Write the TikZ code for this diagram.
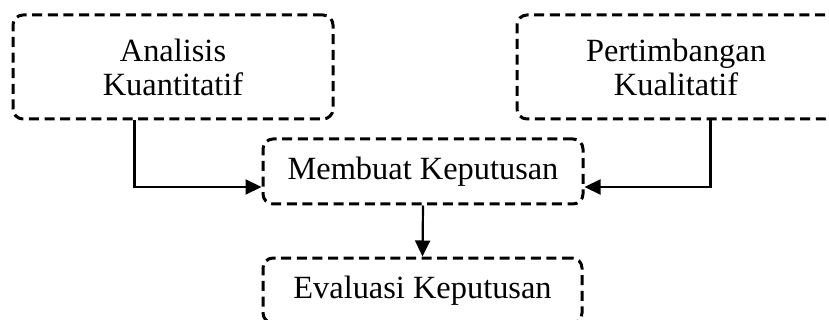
\documentclass[tikz,border=0pt]{standalone}
\usepackage{fontspec}
\setmainfont{Liberation Serif}
\usetikzlibrary{arrows.meta}
\begin{document}
\begin{tikzpicture}[x=0.5pt,y=-0.5pt,
  box/.style={draw, line width=1.5pt, dash pattern=on 5pt off 2.8pt, rounded corners=5pt,
    align=center, inner sep=0pt, font=\fontsize{16.2}{17}\selectfont, fill=white},
  arr/.style={line width=1.1pt, -{Triangle[length=8pt,width=7.5pt]}}]
\useasboundingbox (0,0) rectangle (829,320);
\fill[white] (0,0) rectangle (829,320);
\node[box, minimum width=160pt, minimum height=52pt] (b1) at (173,67) {Analisis\\Kuantitatif};
\node[box, minimum width=159pt, minimum height=52pt] (b2) at (676,67) {Pertimbangan\\Kualitatif};
\node[box, minimum width=160pt, minimum height=32.5pt] (b3) at (423,171.5) {Membuat Keputusan};
\node[box, minimum width=159.5pt, minimum height=32.5pt] (b4) at (422.5,290.5) {Evaluasi Keputusan};
\draw[arr] ([xshift=61.5pt]b1.south west) |- ([yshift=-7.75pt]b3.west);
\draw[arr] ([xshift=97.5pt]b2.south west) |- ([yshift=-7.75pt]b3.east);
\draw[arr] (b3.south) -- (b4.north);
\end{tikzpicture}
\end{document}
